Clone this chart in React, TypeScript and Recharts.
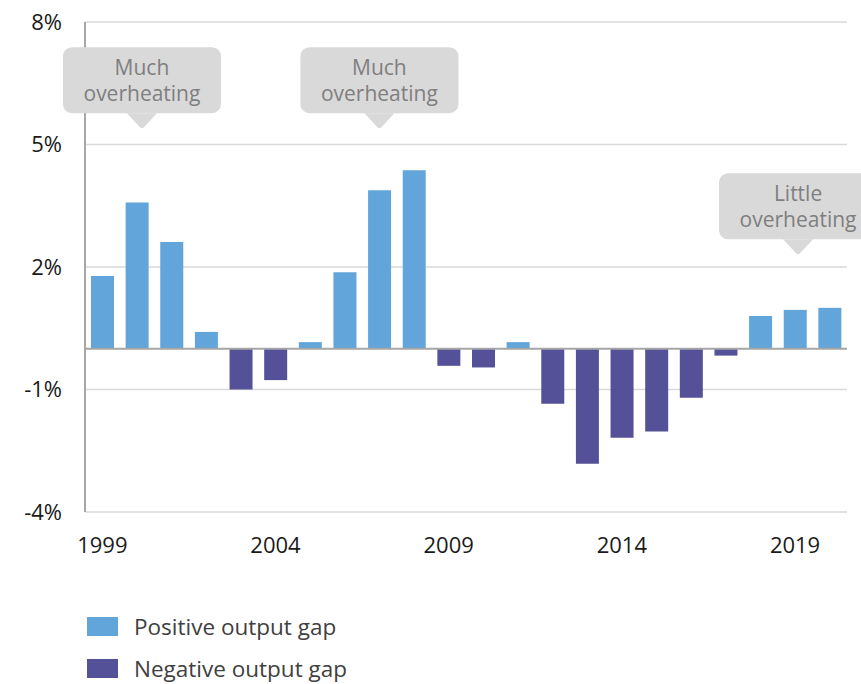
import {
  BarChart,
  Bar,
  XAxis,
  YAxis,
  CartesianGrid,
  ReferenceLine,
  ReferenceDot,
} from "recharts";

const years = [
  1999, 2000, 2001, 2002, 2003, 2004, 2005, 2006, 2007, 2008, 2009,
  2010, 2011, 2012, 2013, 2014, 2015, 2016, 2017, 2018, 2019, 2020,
];

// output gap, % of potential GDP
const outputGap = [
  1.78, 3.58, 2.61, 0.41, -1.0, -0.77, 0.16, 1.87, 3.88, 4.37, -0.42,
  -0.46, 0.16, -1.35, -2.82, -2.18, -2.03, -1.2, -0.17, 0.8, 0.95, 1.0,
];

const yTicks = [-4, -1, 2, 5, 8];

const callouts = [
  { year: 2000, value: 5.4, lines: ["Much", "overheating"] },
  { year: 2007, value: 5.4, lines: ["Much", "overheating"] },
  { year: 2019, value: 2.31, lines: ["Little", "overheating"] },
];

const data = years.map((year, i) => ({
  year,
  positive: outputGap[i] >= 0 ? outputGap[i] : null,
  negative: outputGap[i] < 0 ? outputGap[i] : null,
}));

const FONT = "'Open Sans', sans-serif";
const POS = "#61a5da";
const NEG = "#545199";

function Callout({ cx, cy, lines, shift = 0 }: any) {
  if (cx == null || cy == null) return null;
  const x = cx + shift;
  const w = 158;
  const h = 66;
  const left = x - w / 2;
  const top = cy - 15 - h;
  return (
    <g>
      <rect x={left} y={top} width={w} height={h} rx={9} fill="#d9d9d9" />
      <path
        d={`M${x - 15},${top + h} L${x + 15},${top + h} L${x + 2},${cy - 1} Q${x},${cy + 1} ${x - 2},${cy - 1} Z`}
        fill="#d9d9d9"
      />
      {lines.map((line: string, i: number) => (
        <text
          key={i}
          x={x}
          y={top + 28 + i * 26}
          textAnchor="middle"
          fontFamily={FONT}
          fontSize={21}
          fill="#7f7f7f"
        >
          {line}
        </text>
      ))}
    </g>
  );
}

function LegendRow({ color, label, top }: { color: string; label: string; top: number }) {
  return (
    <div style={{ position: "absolute", left: 87, top, display: "flex", alignItems: "center" }}>
      <div style={{ width: 31, height: 19, background: color }} />
      <span style={{ marginLeft: 16, fontFamily: FONT, fontSize: 22.5, color: "#404040", lineHeight: "19px" }}>
        {label}
      </span>
    </div>
  );
}

export default function App() {
  return (
    <div style={{ position: "relative", width: 861, height: 684, background: "#fff", overflow: "hidden" }}>
      <style>{`body{margin:0}`}</style>
      <BarChart
        width={861}
        height={560}
        data={data}
        stackOffset="sign"
        barSize={23}
        margin={{ top: 22, right: 14, bottom: 18, left: 0 }}
      >
        <CartesianGrid vertical={false} stroke="#d9d9d9" strokeWidth={1.5} />
        <XAxis
          dataKey="year"
          interval={4}
          height={30}
          axisLine={false}
          tickLine={false}
          tickSize={0}
          tickMargin={25}
          tick={{ fill: "#1a1a1a", fontSize: 22, fontFamily: FONT }}
        />
        <YAxis
          type="number"
          domain={[-4, 8]}
          ticks={yTicks}
          width={85}
          tickFormatter={(v) => `${v}%`}
          axisLine={{ stroke: "#a6a6a6", strokeWidth: 2 }}
          tickLine={false}
          tickSize={0}
          tickMargin={23}
          tick={{ fill: "#1a1a1a", fontSize: 22, fontFamily: FONT }}
        />
        <Bar dataKey="positive" name="Positive output gap" stackId="gap" fill={POS} isAnimationActive={false} />
        <Bar dataKey="negative" name="Negative output gap" stackId="gap" fill={NEG} isAnimationActive={false} />
        <ReferenceLine y={0} stroke="#a6a6a6" strokeWidth={2} />
        {callouts.map((c, i) => (
          <ReferenceDot
            key={i}
            x={c.year}
            y={c.value}
            r={0}
            ifOverflow="visible"
            shape={(props: any) => <Callout {...props} lines={c.lines} shift={i === 0 ? 5 : i === 2 ? 3 : 0} />}
          />
        ))}
      </BarChart>
      <LegendRow color={POS} label="Positive output gap" top={617} />
      <LegendRow color={NEG} label="Negative output gap" top={659} />
    </div>
  );
}
